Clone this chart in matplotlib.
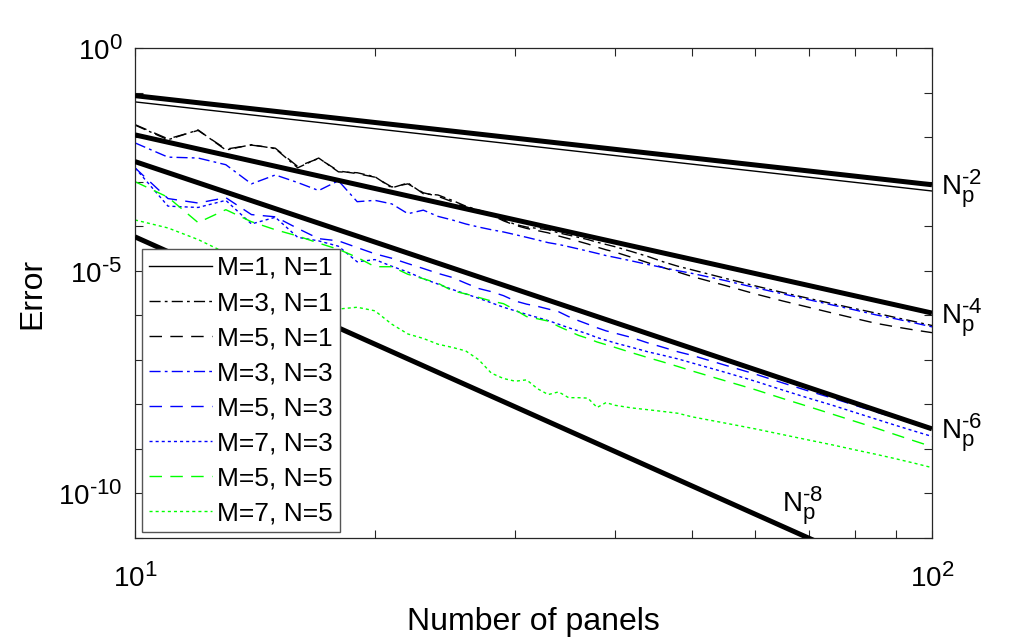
import numpy as np
import matplotlib
matplotlib.use('Agg')
import matplotlib.pyplot as plt
import matplotlib._mathtext as _mt
from matplotlib.ticker import FixedLocator, NullFormatter, FuncFormatter

plt.rcParams['font.family'] = ['Liberation Sans', 'DejaVu Sans']
plt.rcParams['mathtext.fontset'] = 'custom'
plt.rcParams['mathtext.rm'] = 'Liberation Sans'
plt.rcParams['mathtext.it'] = 'Liberation Sans:italic'
plt.rcParams['mathtext.default'] = 'regular'
plt.rcParams['lines.scale_dashes'] = False
_mt.SHRINK_FACTOR = 0.8

# ---------------- data (log10 of error) ----------------
panels = list(range(10, 41)) + [42, 44, 46, 48, 50, 55, 60, 65, 70, 75, 80, 85, 90, 95, 100]
panels_m1 = [10, 12, 15, 20, 25, 30, 40, 50, 60, 70, 80, 90, 100]

log_m1n1 = [-1.21, -1.368, -1.562, -1.812, -2.006, -2.164, -2.414, -2.608, -2.766,
            -2.900, -3.016, -3.118, -3.21]

log_m3n1 = [-1.73, -2.06, -1.84, -2.29, -2.17, -2.26, -2.69, -2.47, -2.78, -2.80,
            -2.89, -3.14, -3.03, -3.27, -3.30, -3.42, -3.55, -3.64, -3.72, -3.86,
            -3.96, -4.02, -4.05, -4.08, -4.15, -4.20, -4.25, -4.30, -4.36, -4.41,
            -4.46, -4.57, -4.68, -4.80, -4.90, -4.98, -5.17, -5.34, -5.49, -5.62,
            -5.74, -5.85, -5.95, -6.05, -6.14, -6.23]

log_m5n1 = [-1.72, -2.04, -1.85, -2.27, -2.18, -2.25, -2.66, -2.48, -2.76, -2.82,
            -2.90, -3.12, -3.05, -3.25, -3.33, -3.45, -3.57, -3.66, -3.75, -3.88,
            -3.98, -4.05, -4.10, -4.15, -4.22, -4.28, -4.34, -4.40, -4.47, -4.53,
            -4.58, -4.70, -4.82, -4.93, -5.03, -5.13, -5.33, -5.52, -5.68, -5.82,
            -5.95, -6.07, -6.18, -6.26, -6.33, -6.39]

log_m3n3 = [-2.13, -2.45, -2.47, -2.62, -3.05, -2.85, -3.02, -3.20, -2.98, -3.45,
            -3.42, -3.50, -3.72, -3.64, -3.78, -3.86, -3.95, -4.02, -4.08, -4.13,
            -4.19, -4.25, -4.31, -4.37, -4.41, -4.46, -4.51, -4.56, -4.61, -4.66,
            -4.70, -4.78, -4.86, -4.93, -5.00, -5.06, -5.22, -5.38, -5.52, -5.65,
            -5.77, -5.88, -5.99, -6.08, -6.17, -6.26]

log_m5n3 = [-2.69, -3.38, -3.48, -3.36, -3.74, -3.79, -4.05, -4.28, -4.33, -4.48,
            -4.62, -4.72, -4.84, -4.95, -5.06, -5.15, -5.28, -5.40, -5.47, -5.56,
            -5.68, -5.75, -5.80, -5.86, -5.92, -6.03, -6.12, -6.20, -6.28, -6.35,
            -6.40, -6.50, -6.62, -6.72, -6.82, -6.90, -7.12, -7.32, -7.52, -7.70,
            -7.86, -8.02, -8.17, -8.30, -8.43, -8.54]

log_m7n3 = [-2.69, -3.55, -3.58, -3.42, -3.95, -3.80, -4.25, -4.33, -4.45, -4.80,
            -4.75, -4.90, -5.03, -5.18, -5.30, -5.42, -5.52, -5.62, -5.72, -5.82,
            -5.90, -5.98, -6.05, -6.12, -6.20, -6.28, -6.35, -6.42, -6.50, -6.56,
            -6.62, -6.72, -6.82, -6.90, -6.98, -7.07, -7.28, -7.48, -7.68, -7.86,
            -8.02, -8.18, -8.33, -8.47, -8.60, -8.72]

log_m5n5 = [-3.00, -3.35, -3.92, -3.63, -3.90, -4.08, -4.22, -4.38, -4.52, -4.70,
            -4.91, -4.91, -5.08, -5.18, -5.28, -5.45, -5.52, -5.60, -5.68, -5.74,
            -5.88, -6.03, -6.08, -6.13, -6.25, -6.35, -6.45, -6.52, -6.60, -6.66,
            -6.72, -6.84, -6.95, -7.05, -7.15, -7.25, -7.47, -7.67, -7.87, -8.05,
            -8.22, -8.38, -8.53, -8.68, -8.82, -8.95]

log_m7n5 = [-3.86, -4.04, -4.30, -4.60, -4.88, -5.12, -5.40, -5.62, -5.86, -5.82,
            -5.90, -6.20, -6.42, -6.52, -6.65, -6.72, -6.80, -7.00, -7.30, -7.42,
            -7.48, -7.45, -7.65, -7.78, -7.72, -7.85, -7.85, -7.86, -8.07, -7.96,
            -8.02, -8.08, -8.12, -8.16, -8.20, -8.28, -8.42, -8.55, -8.68, -8.80,
            -8.91, -9.02, -9.12, -9.22, -9.32, -9.42]

series_logs = [log_m1n1, log_m3n1, log_m5n1, log_m3n3, log_m5n3, log_m7n3, log_m5n5, log_m7n5]
series_labels = ['M=1, N=1', 'M=3, N=1', 'M=5, N=1', 'M=3, N=3',
                 'M=5, N=3', 'M=7, N=3', 'M=5, N=5', 'M=7, N=5']

# reference slopes N_p^-k : values at Np = 10 and Np = 100
ref_panels = [10, 100]
ref_orders = [2, 4, 6, 8]
ref_log_start = [-1.07, -1.95, -2.55, -4.24]
ref_log_end = [-3.07, -5.95, -8.55, -12.24]
ref_label_x = [102.5, 102.5, 102.5, 64.8]
ref_label_logy = [-3.30, -6.21, -8.79, -10.43]

# ---------------- styles ----------------
DASH = (0, (9, 6))
DOT = (0, (2.2, 2.2))
DASHDOT = (0, (8, 3, 2, 3))
styles = [
    dict(color='k', linestyle='-'),
    dict(color='k', linestyle=DASHDOT),
    dict(color='k', linestyle=DASH),
    dict(color='#0000ff', linestyle=DASHDOT),
    dict(color='#0000ff', linestyle=DASH),
    dict(color='#0000ff', linestyle=DOT),
    dict(color='#00ff00', linestyle=DASH),
    dict(color='#00ff00', linestyle=DOT),
]

fig = plt.figure(figsize=(10.32, 6.42), dpi=100)
ax = fig.add_axes([135 / 1032, 1 - 538 / 642, 797 / 1032, 490 / 642])

for i, (lg, lab, st) in enumerate(zip(series_logs, series_labels, styles)):
    xs = panels_m1 if i == 0 else panels
    ax.plot(xs, 10.0 ** np.array(lg), label=lab, linewidth=1.0, **st)

for k, ls, le, tx, ty in zip(ref_orders, ref_log_start, ref_log_end, ref_label_x, ref_label_logy):
    ax.plot(ref_panels, [10.0 ** ls, 10.0 ** le], color='k', linewidth=3.6,
            solid_capstyle='butt', zorder=3)
    ax.text(tx, 10.0 ** ty, r'$N_p^{\text{-%d}}$' % k, fontsize=20, ha='left',
            va='baseline', clip_on=False)

ax.set_xscale('log')
ax.set_yscale('log')
ax.set_xlim(10, 100)
ax.set_ylim(1e-11, 1e0)

ax.xaxis.set_major_locator(FixedLocator([10, 100]))
ax.xaxis.set_minor_locator(FixedLocator([20, 30, 40, 50, 60, 70, 80, 90]))
ax.yaxis.set_major_locator(FixedLocator([1e-10, 1e-5, 1e0]))
ax.yaxis.set_minor_locator(FixedLocator([10.0 ** e for e in range(-11, 1)]))
ax.xaxis.set_minor_formatter(NullFormatter())
ax.yaxis.set_minor_formatter(NullFormatter())


def _fmt(v, p):
    e = int(round(np.log10(v)))
    if e < 0:
        return r'$10^{\text{-%d}}$' % (-e)
    return r'$10^{%d}$' % e


fmt = FuncFormatter(_fmt)
ax.xaxis.set_major_formatter(fmt)
ax.yaxis.set_major_formatter(fmt)

spine_c = '#262626'
for s in ax.spines.values():
    s.set_color(spine_c)
    s.set_linewidth(0.9)
ax.tick_params(which='both', direction='in', top=True, right=True, length=6,
               width=0.8, color=spine_c, labelsize=20)
ax.tick_params(axis='x', which='major', pad=18)
ax.tick_params(axis='y', which='major', pad=9)

ax.set_xlabel('Number of panels', fontsize=23, labelpad=10)
ax.set_ylabel('Error', fontsize=23, labelpad=8)

leg = ax.legend(loc='lower left', bbox_to_anchor=(0.009, 0.012), fontsize=19,
                handlelength=2.4, handletextpad=0.2, labelspacing=0.42,
                borderpad=0.25, borderaxespad=0.0, fancybox=False,
                framealpha=1.0, edgecolor='#555555')
leg.get_frame().set_linewidth(1.0)

fig.savefig('out.png', dpi=100)
